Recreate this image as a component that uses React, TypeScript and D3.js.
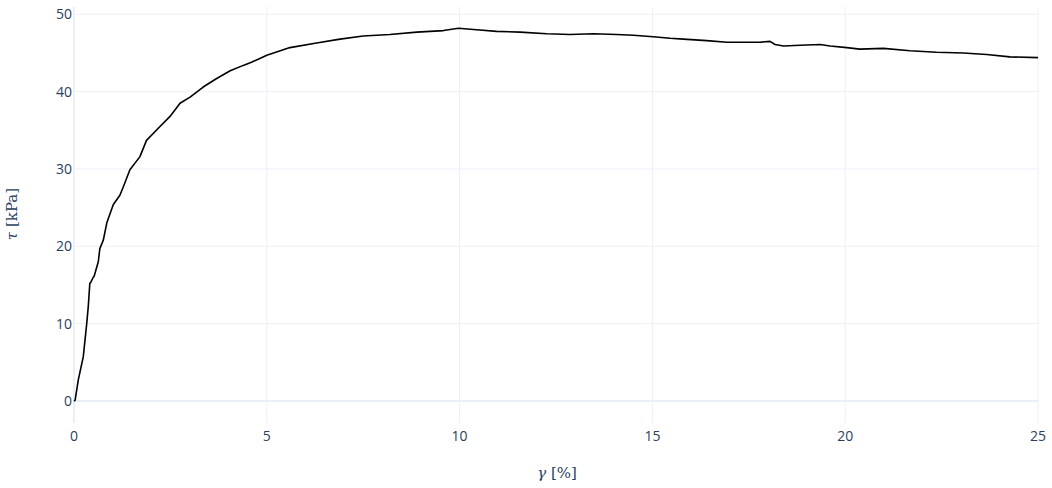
import React from "react";
import * as d3 from "d3";

const gammaValues = [
  0, 0.03, 0.11, 0.24, 0.33, 0.37, 0.41, 0.43, 0.5, 0.52, 0.63, 0.67, 0.76, 0.85, 0.89, 1.02, 1.19, 1.28,
  1.35, 1.45, 1.71, 1.88, 2.23, 2.49, 2.75, 3.01, 3.35, 3.7, 4.05, 4.39, 4.6, 4.82, 5.0, 5.6, 6.29, 6.9,
  7.5, 8.19, 8.89, 9.58, 9.97, 10.44, 10.96, 11.57, 12.26, 12.86, 13.47, 14.07, 14.51, 15.02, 15.46, 15.8,
  16.41, 16.93, 17.45, 17.79, 18.05, 18.18, 18.4, 18.83, 19.35, 19.61, 20.04, 20.38, 20.99, 21.68, 22.37,
  23.06, 23.67, 24.27, 25.0,
];
const tauValues = [
  0, 0.1, 2.7, 5.7, 10.0, 12.2, 15.2, 15.3, 16.0, 16.1, 18.0, 19.7, 20.8, 23.0, 23.6, 25.4, 26.6, 27.7,
  28.6, 29.9, 31.6, 33.7, 35.5, 36.8, 38.5, 39.3, 40.6, 41.7, 42.7, 43.4, 43.8, 44.3, 44.7, 45.7, 46.3, 46.8,
  47.2, 47.4, 47.7, 47.9, 48.2, 48.0, 47.8, 47.7, 47.5, 47.4, 47.5, 47.4, 47.3, 47.1, 46.9, 46.8,
  46.6, 46.4, 46.4, 46.4, 46.5, 46.1, 45.9, 46.0, 46.1, 45.9, 45.7, 45.5, 45.6, 45.3, 45.1,
  45.0, 44.8, 44.5, 44.4,
];
const xTicks = [0, 5, 10, 15, 20, 25];
const yTicks = [0, 10, 20, 30, 40, 50];

const W = 1052;
const H = 488;
const left = 74;
const right = 1038;
const top = 7;
const bottom = 423;

export default function App() {
  const x = d3.scaleLinear().domain([0, 25]).range([left, right]);
  const y = d3.scaleLinear().domain([-2.85, 50.95]).range([bottom, top]);
  const pts: [number, number][] = gammaValues.map((g, i) => [g, tauValues[i]]);
  const line = d3
    .line<[number, number]>()
    .x((d) => x(d[0]))
    .y((d) => y(d[1]));
  const grid = "#ebf0f8";
  const txt = "#2a3f5f";
  const font = "'Open Sans', sans-serif";
  return (
    <div style={{ position: "fixed", left: 0, top: 0 }}>
      <svg width={W} height={H} style={{ display: "block", background: "#fff" }}>
        {xTicks.map((t) => (
          <line key={"xg" + t} x1={x(t)} x2={x(t)} y1={top} y2={bottom} stroke={grid} strokeWidth={t === 0 ? 2 : 1} />
        ))}
        {yTicks.map((t) => (
          <line key={"yg" + t} x1={left} x2={right} y1={y(t)} y2={y(t)} stroke={grid} strokeWidth={t === 0 ? 2 : 1} />
        ))}
        <path d={line(pts) || ""} fill="none" stroke="#000" strokeWidth={1.6} strokeLinejoin="round" />
        {xTicks.map((t) => (
          <text key={"xt" + t} x={x(t)} y={441} textAnchor="middle" fontFamily={font} fontSize={14} fill={txt}>
            {t}
          </text>
        ))}
        {yTicks.map((t) => (
          <text key={"yt" + t} x={72} y={y(t) + 5} textAnchor="end" fontFamily={font} fontSize={14} fill={txt}>
            {t}
          </text>
        ))}
        <text x={557} y={478} textAnchor="middle" fontFamily="'DejaVu Serif', serif" fontSize={15} fill={txt}>
          <tspan fontStyle="italic">γ</tspan> [%]
        </text>
        <text
          transform="translate(17,214) rotate(-90)"
          textAnchor="middle"
          fontFamily="'DejaVu Serif', serif"
          fontSize={15}
          fill={txt}
        >
          <tspan fontStyle="italic">τ</tspan> [kPa]
        </text>
      </svg>
    </div>
  );
}
